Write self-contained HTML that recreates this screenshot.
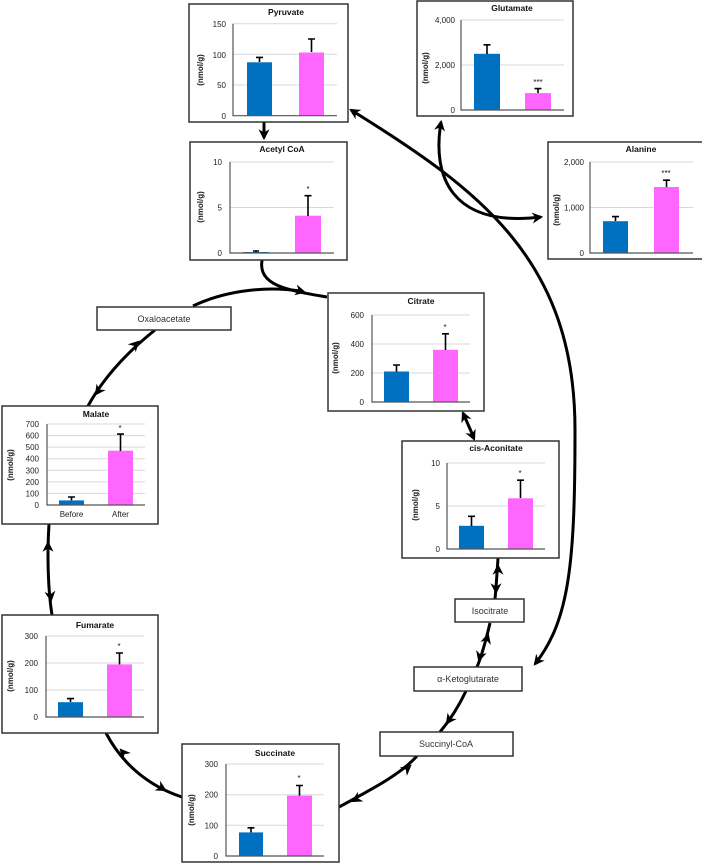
<!DOCTYPE html>
<html><head><meta charset="utf-8"><style>
body{margin:0;background:#fff}
svg{display:block;font-family:"Liberation Sans",Arial,sans-serif}
.t{font-size:8px;fill:#222;text-anchor:end}
.h{font-size:8.5px;font-weight:bold;fill:#111;text-anchor:middle}
.y{font-size:8px;font-weight:bold;fill:#222;text-anchor:middle}
.g{stroke:#d9d9d9;stroke-width:1}
.ax{stroke:#555;stroke-width:1.2;fill:none}
.bx{fill:#fff;stroke:#333;stroke-width:1.5}
.b{fill:#0070c0}.p{fill:#ff66ff}
.e{stroke:#000;stroke-width:1.6;fill:none}
.c{stroke:#000;stroke-width:3;fill:none}
.m{stroke:none;fill:none}
.s{font-size:8px;fill:#222;text-anchor:middle}
.lb{font-size:9px;fill:#333;text-anchor:middle}
</style></head><body>
<svg width="702" height="864" viewBox="0 0 702 864">
<defs>
<marker id="a" viewBox="0 0 10 10" refX="8" refY="5" markerWidth="11" markerHeight="11" markerUnits="userSpaceOnUse" orient="auto-start-reverse"><path d="M0,0 L10,5 L0,10 L3,5 z" fill="#000"/></marker>
</defs>

<!-- connectors -->
<path class="c" d="M264,122 L264,138" marker-end="url(#a)"/>
<path class="c" d="M262,260 C258,285 285,290 327,297"/>
<path class="m" d="M296,290 L304,292" marker-end="url(#a)"/>
<path class="c" d="M193,306 C220,293 260,285 300,291"/>
<path class="c" d="M155,330 C130,350 105,375 88,406"/>
<path class="m" d="M132,348 L138,342" marker-end="url(#a)"/>
<path class="m" d="M101,387 L96,394" marker-end="url(#a)"/>
<path class="c" d="M49,524 C47,555 48,590 52,615"/>
<path class="m" d="M48,550 L48,543" marker-end="url(#a)"/>
<path class="m" d="M50,592 L51,600" marker-end="url(#a)"/>
<path class="c" d="M106,733 C120,760 145,785 182,797"/>
<path class="m" d="M127,757 L121,750" marker-end="url(#a)"/>
<path class="m" d="M158,786 L165,790" marker-end="url(#a)"/>
<path class="c" d="M339,807 C370,790 400,775 417,756"/>
<path class="m" d="M403,772 L410,766" marker-end="url(#a)"/>
<path class="m" d="M360,797 L353,801" marker-end="url(#a)"/>
<path class="c" d="M466,691 C458,708 450,720 440,732"/>
<path class="m" d="M452,716 L447,723" marker-end="url(#a)"/>
<path class="c" d="M490,623 C486,640 482,655 477,667"/>
<path class="m" d="M486,642 L488,635" marker-end="url(#a)"/>
<path class="m" d="M481,653 L479,660" marker-end="url(#a)"/>
<path class="c" d="M498,558 C497,575 496,588 495,599"/>
<path class="m" d="M498,574 L498,566" marker-end="url(#a)"/>
<path class="m" d="M496,585 L496,592" marker-end="url(#a)"/>
<path class="c" d="M463,413 L474,438"/>
<path class="m" d="M466,420 L463,413" marker-end="url(#a)"/>
<path class="m" d="M471,432 L474,439" marker-end="url(#a)"/>
<path class="c" d="M351,110 C480,190 575,260 575,430 C575,560 570,620 535,664" marker-start="url(#a)" marker-end="url(#a)"/>
<path class="c" d="M441,122 C432,175 450,228 541,217" marker-start="url(#a)" marker-end="url(#a)"/>

<!-- label boxes -->
<rect class="bx" x="97" y="307" width="134" height="23"/><text class="lb" x="164" y="322">Oxaloacetate</text>
<rect class="bx" x="455" y="599" width="69" height="23"/><text class="lb" x="490" y="614">Isocitrate</text>
<rect class="bx" x="414" y="667" width="108" height="24"/><text class="lb" x="468" y="682">α-Ketoglutarate</text>
<rect class="bx" x="380" y="732" width="133" height="24"/><text class="lb" x="446" y="747">Succinyl-CoA</text>

<!-- Pyruvate -->
<rect class="bx" x="189" y="4" width="159" height="118"/>
<text class="h" x="286" y="15">Pyruvate</text>
<line class="g" x1="233" y1="23.7" x2="337" y2="23.7"/><line class="g" x1="233" y1="54.3" x2="337" y2="54.3"/><line class="g" x1="233" y1="85" x2="337" y2="85"/>
<text class="t" x="226" y="27">150</text><text class="t" x="226" y="58">100</text><text class="t" x="226" y="88">50</text><text class="t" x="226" y="119">0</text>
<text class="y" transform="translate(203,70) rotate(-90)">(nmol/g)</text>
<rect class="b" x="247" y="62.3" width="25" height="53.4"/><rect class="p" x="299" y="52.5" width="25" height="63.2"/>
<path class="e" d="M259.5,62 V57.4 M256,57.4 H263 M311.5,52 V39 M308,39 H315"/>
<path class="ax" d="M233,23.7 V115.7 H337"/>

<!-- Glutamate -->
<rect class="bx" x="417" y="1" width="156" height="115"/>
<text class="h" x="512" y="11">Glutamate</text>
<line class="g" x1="461" y1="20" x2="564" y2="20"/><line class="g" x1="461" y1="65" x2="564" y2="65"/>
<text class="t" x="455" y="23">4,000</text><text class="t" x="455" y="68">2,000</text><text class="t" x="455" y="113">0</text>
<text class="y" transform="translate(428,68) rotate(-90)">(nmol/g)</text>
<rect class="b" x="474" y="53.8" width="26" height="56.2"/><rect class="p" x="525" y="93.1" width="26" height="16.9"/>
<path class="e" d="M487,54 V44.8 M483.5,44.8 H490.5 M538,93 V88.6 M534.5,88.6 H541.5"/>
<text class="s" x="538" y="85">***</text>
<path class="ax" d="M461,20 V110 H564"/>

<!-- Alanine -->
<rect class="bx" x="548" y="142" width="160" height="117"/>
<text class="h" x="641" y="152">Alanine</text>
<line class="g" x1="590" y1="162" x2="693" y2="162"/><line class="g" x1="590" y1="207.5" x2="693" y2="207.5"/>
<text class="t" x="584" y="165">2,000</text><text class="t" x="584" y="210.5">1,000</text><text class="t" x="584" y="256">0</text>
<text class="y" transform="translate(559,210) rotate(-90)">(nmol/g)</text>
<rect class="b" x="603" y="221.2" width="25" height="31.8"/><rect class="p" x="654" y="187" width="25" height="66"/>
<path class="e" d="M615.5,221 V216.6 M612,216.6 H619 M666.5,187 V180.2 M663,180.2 H670"/>
<text class="s" x="666" y="176">***</text>
<path class="ax" d="M590,162 V253 H693"/>

<!-- Acetyl CoA -->
<rect class="bx" x="190" y="142" width="157" height="118"/>
<text class="h" x="282" y="152">Acetyl CoA</text>
<line class="g" x1="230" y1="162" x2="334" y2="162"/><line class="g" x1="230" y1="207.5" x2="334" y2="207.5"/>
<text class="t" x="222" y="165">10</text><text class="t" x="222" y="210.5">5</text><text class="t" x="222" y="256">0</text>
<text class="y" transform="translate(203,207) rotate(-90)">(nmol/g)</text>
<rect class="b" x="243" y="252" width="26" height="1"/><rect class="p" x="295" y="215.7" width="26" height="37.3"/>
<path class="e" d="M256,252 V251 M253,251 H259 M308,216 V195.7 M304.5,195.7 H311.5"/>
<text class="s" x="308" y="192">*</text>
<path class="ax" d="M230,162 V253 H334"/>

<!-- Citrate -->
<rect class="bx" x="328" y="293" width="156" height="118"/>
<text class="h" x="421" y="304">Citrate</text>
<line class="g" x1="372" y1="315" x2="470" y2="315"/><line class="g" x1="372" y1="344" x2="470" y2="344"/><line class="g" x1="372" y1="373" x2="470" y2="373"/>
<text class="t" x="364" y="318">600</text><text class="t" x="364" y="347">400</text><text class="t" x="364" y="376">200</text><text class="t" x="364" y="405">0</text>
<text class="y" transform="translate(338,358) rotate(-90)">(nmol/g)</text>
<rect class="b" x="384" y="371.5" width="25" height="30.5"/><rect class="p" x="433" y="349.8" width="25" height="52.2"/>
<path class="e" d="M396.5,371.5 V365 M393,365 H400 M445.5,350 V333.8 M442,333.8 H449"/>
<text class="s" x="445" y="330">*</text>
<path class="ax" d="M372,315 V402 H470"/>

<!-- cis-Aconitate -->
<rect class="bx" x="402" y="441" width="157" height="117"/>
<text class="h" x="496" y="451">cis-Aconitate</text>
<line class="g" x1="447" y1="463" x2="545" y2="463"/><line class="g" x1="447" y1="506" x2="545" y2="506"/>
<text class="t" x="440" y="466">10</text><text class="t" x="440" y="509">5</text><text class="t" x="440" y="552">0</text>
<text class="y" transform="translate(418,505) rotate(-90)">(nmol/g)</text>
<rect class="b" x="459" y="525.8" width="25" height="23.2"/><rect class="p" x="508" y="498.3" width="25" height="50.7"/>
<path class="e" d="M471.5,526 V516.3 M468,516.3 H475 M520.5,498 V480.2 M517,480.2 H524"/>
<text class="s" x="520" y="476">*</text>
<path class="ax" d="M447,463 V549 H545"/>

<!-- Malate -->
<rect class="bx" x="2" y="406" width="156" height="118"/>
<text class="h" x="96" y="417">Malate</text>
<g class="g"><line x1="47" y1="424" x2="145" y2="424"/><line x1="47" y1="435.6" x2="145" y2="435.6"/><line x1="47" y1="447.1" x2="145" y2="447.1"/><line x1="47" y1="458.7" x2="145" y2="458.7"/><line x1="47" y1="470.3" x2="145" y2="470.3"/><line x1="47" y1="481.9" x2="145" y2="481.9"/><line x1="47" y1="493.4" x2="145" y2="493.4"/></g>
<text class="t" x="39" y="427">700</text><text class="t" x="39" y="438.6">600</text><text class="t" x="39" y="450">500</text><text class="t" x="39" y="461.7">400</text><text class="t" x="39" y="473.3">300</text><text class="t" x="39" y="484.9">200</text><text class="t" x="39" y="496.4">100</text><text class="t" x="39" y="508">0</text>
<text class="y" transform="translate(13,465) rotate(-90)">(nmol/g)</text>
<rect class="b" x="59" y="500.4" width="25" height="4.6"/><rect class="p" x="108" y="450.7" width="25" height="54.3"/>
<path class="e" d="M71.5,500.4 V497 M68,497 H75 M120.5,451 V434.1 M117,434.1 H124"/>
<text class="s" x="120" y="431">*</text>
<text class="s" x="71.5" y="517">Before</text><text class="s" x="120.5" y="517">After</text>
<path class="ax" d="M47,424 V505 H145"/>

<!-- Fumarate -->
<rect class="bx" x="2" y="615" width="156" height="118"/>
<text class="h" x="95" y="628">Fumarate</text>
<line class="g" x1="46" y1="636" x2="144" y2="636"/><line class="g" x1="46" y1="663" x2="144" y2="663"/><line class="g" x1="46" y1="690" x2="144" y2="690"/>
<text class="t" x="38" y="639">300</text><text class="t" x="38" y="666">200</text><text class="t" x="38" y="693">100</text><text class="t" x="38" y="720">0</text>
<text class="y" transform="translate(13,676) rotate(-90)">(nmol/g)</text>
<rect class="b" x="58" y="702.2" width="25" height="14.8"/><rect class="p" x="107" y="664.4" width="25" height="52.6"/>
<path class="e" d="M70.5,702 V698.6 M67,698.6 H74 M119.5,664.4 V653 M116,653 H123"/>
<text class="s" x="119" y="649">*</text>
<path class="ax" d="M46,636 V717 H144"/>

<!-- Succinate -->
<rect class="bx" x="182" y="744" width="157" height="118"/>
<text class="h" x="275" y="756">Succinate</text>
<line class="g" x1="226" y1="764" x2="324" y2="764"/><line class="g" x1="226" y1="794.7" x2="324" y2="794.7"/><line class="g" x1="226" y1="825.3" x2="324" y2="825.3"/>
<text class="t" x="218" y="767">300</text><text class="t" x="218" y="797.7">200</text><text class="t" x="218" y="828.3">100</text><text class="t" x="218" y="859">0</text>
<text class="y" transform="translate(194,810) rotate(-90)">(nmol/g)</text>
<rect class="b" x="239" y="832.4" width="24" height="23.6"/><rect class="p" x="287" y="795.6" width="25" height="60.4"/>
<path class="e" d="M251,832.4 V827.8 M247.5,827.8 H254.5 M299.5,795.6 V785.5 M296,785.5 H303"/>
<text class="s" x="299" y="781">*</text>
<path class="ax" d="M226,764 V856 H324"/>
</svg>
</body></html>
